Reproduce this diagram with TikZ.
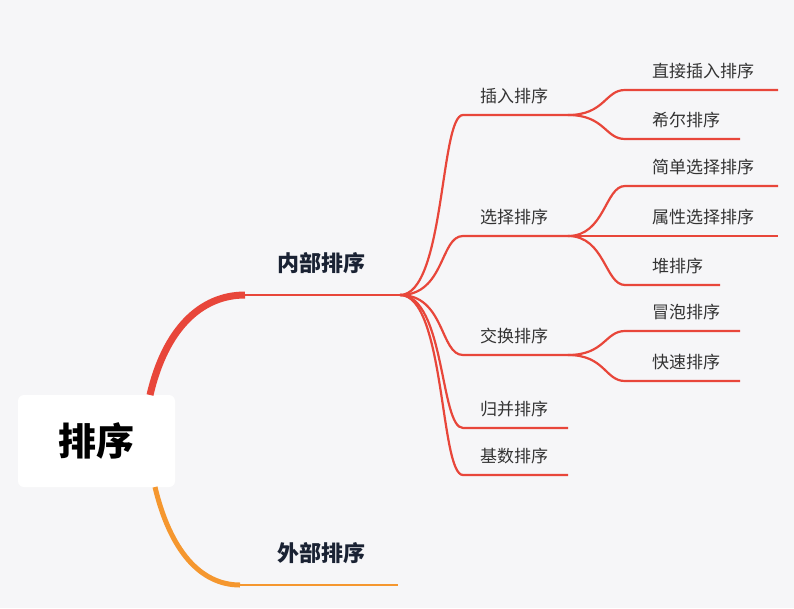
\documentclass[tikz,border=0pt]{standalone}
\usepackage{fontspec}
\setmainfont{Noto Sans CJK SC}
\begin{document}
\begin{tikzpicture}[x=1pt,y=-1pt,
  lnk/.style={draw=red1,line width=2.2pt},
  lbl/.style={anchor=west,inner sep=0pt,font=\fontsize{17}{19}\selectfont,text=txt},
  mlbl/.style={anchor=center,inner sep=0pt,font=\bfseries\fontsize{22}{24}\selectfont,text=head}]
\definecolor{bg}{HTML}{F6F6F8}
\definecolor{red1}{HTML}{E8463A}
\definecolor{org}{HTML}{F5972F}
\definecolor{txt}{HTML}{333333}
\definecolor{head}{HTML}{1A2233}
\useasboundingbox[fill=bg] (0,0) rectangle (794,608);
\node[fill=white,rounded corners=6pt,minimum width=157pt,minimum height=92pt,font=\bfseries\fontsize{38}{42}\selectfont] (root) at (96.5,441) {排序};
% main branches
\coordinate (a0) at (150,395); \coordinate (a1) at (245,295); \coordinate (a2) at (400,295);
\coordinate (b0) at (155,487); \coordinate (b1) at (240,585); \coordinate (b2) at (398,585);
\draw[red1,line width=7pt] (a0) .. controls (165,330) and (200,295) .. (a1);
\draw[red1,line width=2.5pt] (a1) -- (a2);
\draw[org,line width=5pt] (b0) .. controls (170,550) and (200,585) .. (b1);
\draw[org,line width=2.5pt] (b1) -- (b2);
\node[mlbl] (n1) at (321,263) {内部排序};
\node[mlbl] (n2) at (321,553) {外部排序};
% second level
\foreach \y/\t/\n in {115/插入排序/c1,236/选择排序/c2,355/交换排序/c3,428/归并排序/c4,475/基数排序/c5}{
  \coordinate (\n s) at (463,\y); \coordinate (\n e) at (568,\y);
  \draw[lnk] (a2) .. controls (445,295) and (440,\y) .. (\n s) -- (\n e);
  \node[lbl] (\n) at (480,\y-19) {\t};
}
% third level
\foreach \p/\y/\xe/\t/\n in {c1/90/778/直接插入排序/d1,c1/139/740/希尔排序/d2,c2/186/778/简单选择排序/d3,c2/236/778/属性选择排序/d4,c2/285/720/堆排序/d5,c3/331/740/冒泡排序/d6,c3/381/740/快速排序/d7}{
  \coordinate (\n s) at (625,\y); \coordinate (\n e) at (\xe,\y);
  \draw[lnk] (\p e) .. controls (605,0|-\p e) and (605,\y) .. (\n s) -- (\n e);
  \node[lbl] (\n) at (652,\y-19) {\t};
}
\end{tikzpicture}
\end{document}
